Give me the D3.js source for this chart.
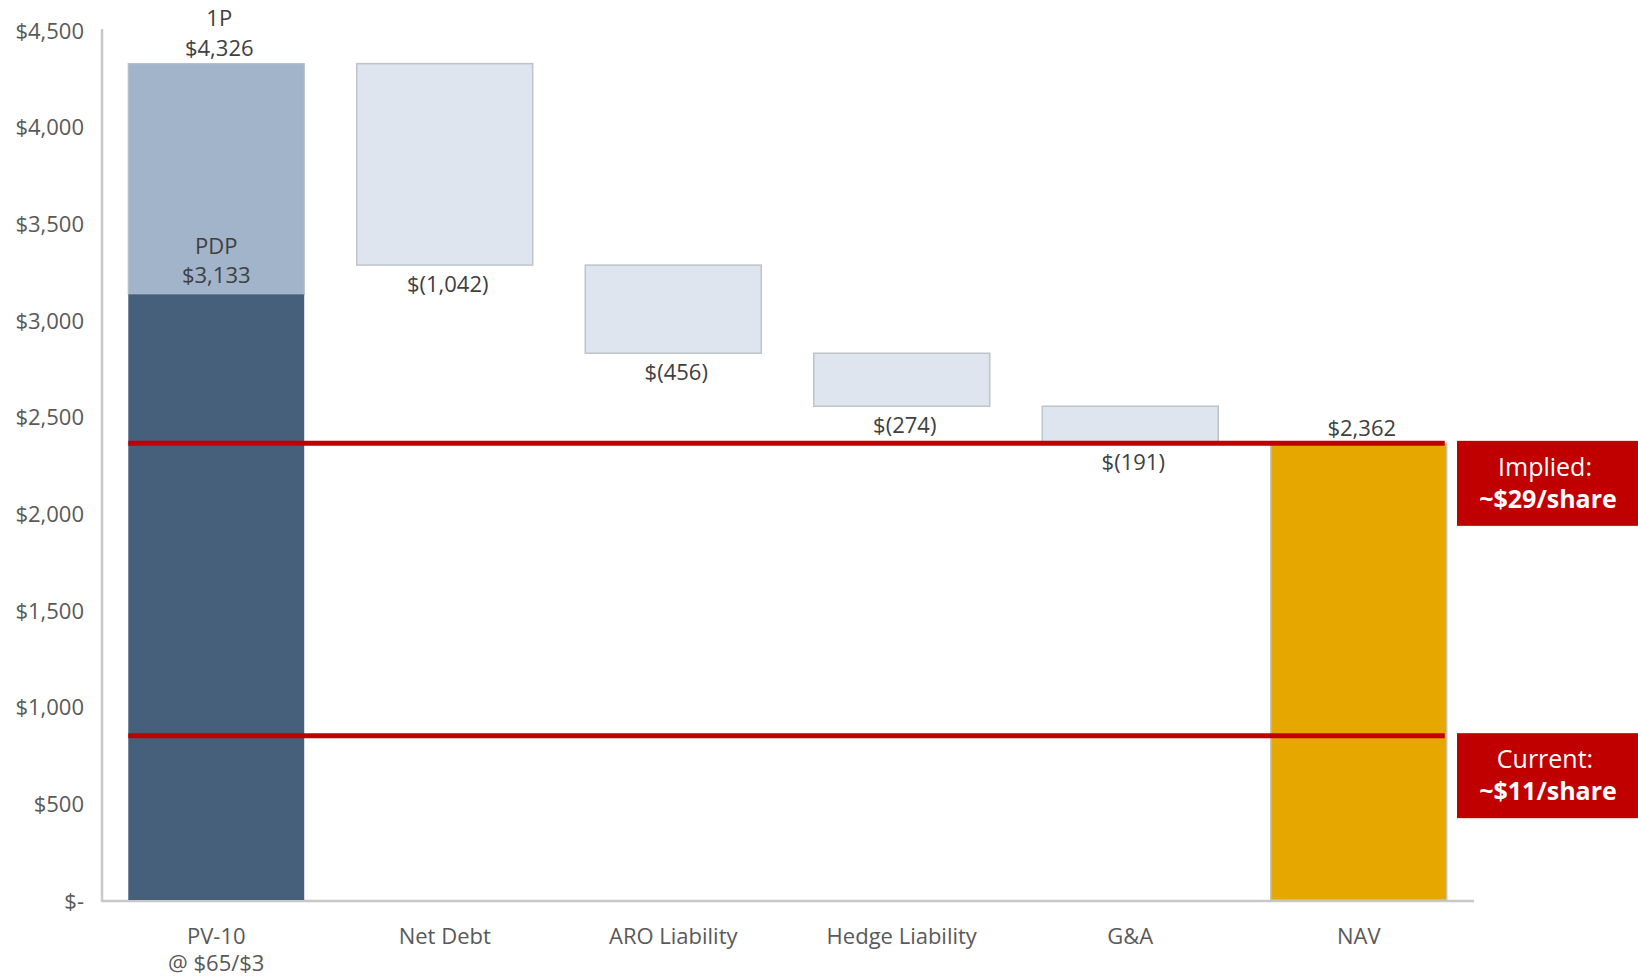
<!DOCTYPE html>
<html>
<head>
<meta charset="utf-8">
<script src="https://cdn.jsdelivr.net/npm/d3@7"></script>
<style>
  html, body { margin: 0; padding: 0; background: #fff; }
  svg { display: block; font-family: "Segoe UI", "Open Sans", "Noto Sans", sans-serif; }
</style>
</head>
<body>
<svg id="chart" width="1638" height="979"></svg>
<script>
// Waterfall categories and values ($MM)
const categories = ["PV-10", "Net Debt", "ARO Liability", "Hedge Liability", "G&A", "NAV"];
const categorySubLabels = ["@ $65/$3", "", "", "", "", ""];
const pv10Total = 4326;   // 1P
const pv10PDP = 3133;     // PDP
const deductions = [-1042, -456, -274, -191];
const navValue = 2362;
const impliedValue = 2362;   // implied share value line
const currentValue = 850;    // current share value line
const referenceLabels = [
  { value: impliedValue, line1: "Implied:", line2: "~$29/share" },
  { value: currentValue, line1: "Current:", line2: "~$11/share" }
];
const yTicks = [0, 500, 1000, 1500, 2000, 2500, 3000, 3500, 4000, 4500];

const svg = d3.select("#chart");
const x = d3.scaleBand().domain(categories).range([102, 1473]).paddingInner(0.23).paddingOuter(0.115);
const y = d3.scaleLinear().domain([0, 4500]).range([900, 30]);

const fmt = v => v === 0 ? "$-" : "$" + d3.format(",")(v);
const fmtNeg = v => "$(" + d3.format(",")(Math.abs(v)) + ")";

// Y axis labels
svg.append("g").selectAll("text").data(yTicks).join("text")
  .attr("x", 84).attr("y", d => y(d) + 1).attr("dy", "0.35em")
  .attr("text-anchor", "end").attr("fill", "#595959").attr("font-size", 22)
  .text(fmt);

// Axis lines
svg.append("line").attr("x1", 102).attr("x2", 102).attr("y1", 29).attr("y2", 901)
  .attr("stroke", "#C8C8C8").attr("stroke-width", 2.5);
svg.append("line").attr("x1", 101).attr("x2", 1474).attr("y1", 901).attr("y2", 901)
  .attr("stroke", "#C8C8C8").attr("stroke-width", 2.5);

const bw = x.bandwidth();
const gBars = svg.append("g");

// PV-10 stacked bar: 1P (light) and PDP (dark)
gBars.append("rect").attr("x", x(categories[0])).attr("width", bw)
  .attr("y", y(pv10Total)).attr("height", y(pv10PDP) - y(pv10Total))
  .attr("fill", "#A1B4CA").attr("stroke", "#B4BFCB").attr("stroke-width", 1.2);
gBars.append("rect").attr("x", x(categories[0])).attr("width", bw)
  .attr("y", y(pv10PDP)).attr("height", y(0) - y(pv10PDP))
  .attr("fill", "#46607C");

// Deduction steps
let running = pv10Total;
const steps = deductions.map((d, i) => {
  const top = running, bottom = running + d;
  running = bottom;
  return { cat: categories[i + 1], top, bottom, value: d };
});
gBars.selectAll("rect.step").data(steps).join("rect").attr("class", "step")
  .attr("x", d => x(d.cat)).attr("width", bw)
  .attr("y", d => y(d.top)).attr("height", d => y(d.bottom) - y(d.top))
  .attr("fill", "#DEE5EE").attr("stroke", "#BFC3C8").attr("stroke-width", 1.5);

// NAV bar
gBars.append("rect").attr("x", x("NAV")).attr("width", bw)
  .attr("y", y(navValue)).attr("height", y(0) - y(navValue))
  .attr("fill", "#E6A800").attr("stroke", "#C8C2B0").attr("stroke-width", 1.5);

// Value labels
const lab = svg.append("g").attr("fill", "#404040").attr("font-size", 22).attr("text-anchor", "middle");
const cx = c => x(c) + bw / 2;
lab.append("text").attr("x", cx("PV-10") + 3).attr("y", y(pv10Total) - 38).text("1P");
lab.append("text").attr("x", cx("PV-10") + 3).attr("y", y(pv10Total) - 8).text(fmt(pv10Total));
lab.append("text").attr("x", cx("PV-10")).attr("y", y(pv10PDP) - 40).text("PDP");
lab.append("text").attr("x", cx("PV-10")).attr("y", y(pv10PDP) - 11).text(fmt(pv10PDP));
lab.selectAll("text.step").data(steps).join("text").attr("class", "step")
  .attr("x", d => cx(d.cat) + 3).attr("y", d => y(d.bottom) + 27)
  .text(d => fmtNeg(d.value));
lab.append("text").attr("x", cx("NAV") + 3).attr("y", y(navValue) - 7).text(fmt(navValue));

// Category labels
const cl = svg.append("g").attr("fill", "#595959").attr("font-size", 22).attr("text-anchor", "middle");
cl.selectAll("text.cat").data(categories).join("text").attr("class", "cat")
  .attr("x", d => cx(d)).attr("y", 944).text(d => d);
cl.selectAll("text.sub").data(categories.map((c, i) => ({ c, s: categorySubLabels[i] })).filter(d => d.s))
  .join("text").attr("class", "sub")
  .attr("x", d => cx(d.c)).attr("y", 971).text(d => d.s);

// Reference lines and callouts
const refG = svg.append("g");
referenceLabels.forEach(r => {
  const ly = y(r.value);
  refG.append("line").attr("x1", x(categories[0])).attr("x2", x("NAV") + bw - 2)
    .attr("y1", ly).attr("y2", ly).attr("stroke", "#C00000").attr("stroke-width", 5);
  const bx = 1457, by = ly - 2.5;
  refG.append("rect").attr("x", bx).attr("y", by).attr("width", 181).attr("height", 85).attr("fill", "#C00000");
  refG.append("text").attr("x", 1545).attr("y", by + 35).attr("text-anchor", "middle")
    .attr("fill", "#fff").attr("font-size", 25).text(r.line1);
  refG.append("text").attr("x", 1548).attr("y", by + 67).attr("text-anchor", "middle")
    .attr("fill", "#fff").attr("font-size", 25).attr("font-weight", "bold").text(r.line2);
});
</script>
</body>
</html>
